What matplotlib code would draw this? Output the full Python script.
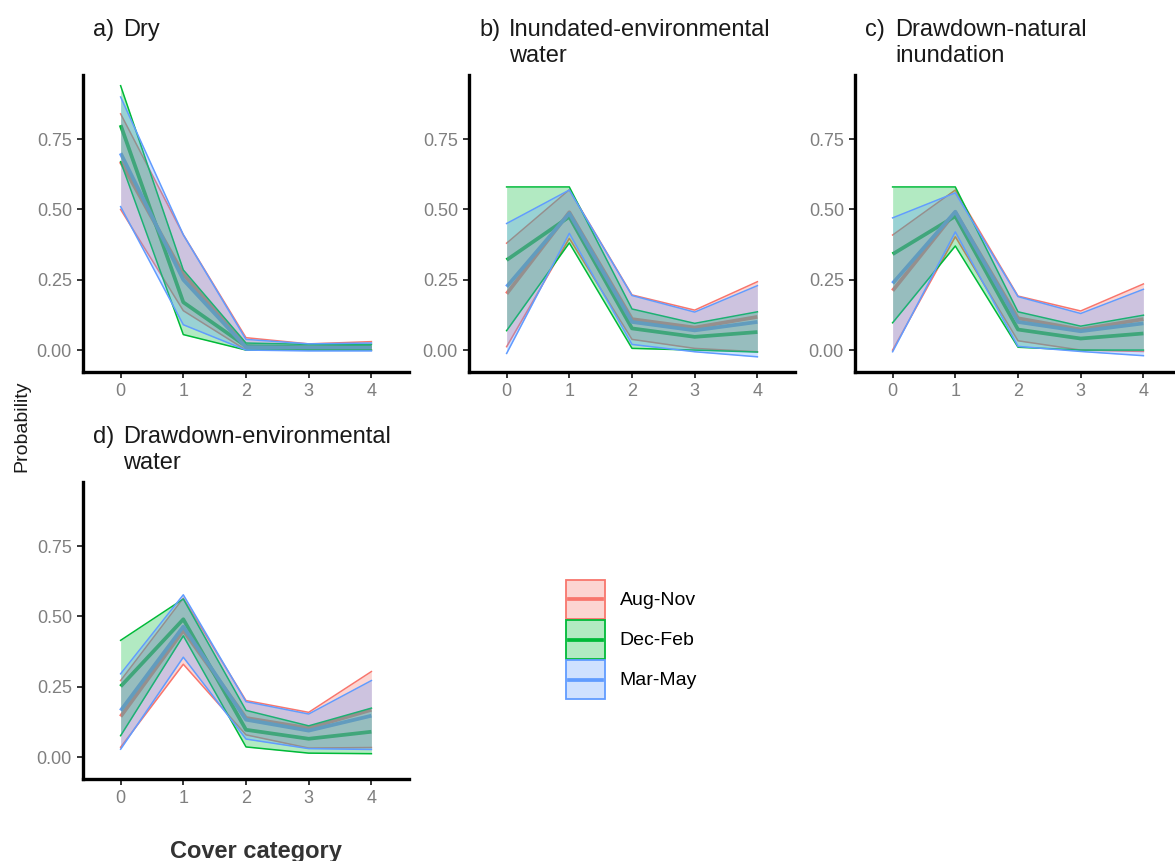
import matplotlib.pyplot as plt
from matplotlib.legend_handler import HandlerLine2D, HandlerTuple
from matplotlib.lines import Line2D
from matplotlib.patches import Patch

plt.rcParams["font.family"] = ["Liberation Sans", "DejaVu Sans"]

cover = [0, 1, 2, 3, 4]
cover_labels = ["0", "1", "2", "3", "4"]
prob_ticks = [0.0, 0.25, 0.5, 0.75]
prob_labels = ["0.00", "0.25", "0.50", "0.75"]

seasons = ["Aug-Nov", "Dec-Feb", "Mar-May"]
season_colors = ["#F8766D", "#00BA38", "#619CFF"]

# each table: one row per season (Aug-Nov, Dec-Feb, Mar-May), one value per cover category
dry_mean = [[0.67, 0.27, 0.012, 0.008, 0.010],
            [0.80, 0.17, 0.014, 0.010, 0.012],
            [0.70, 0.25, 0.010, 0.008, 0.008]]
dry_lower = [[0.50, 0.14, 0.0, 0.0, 0.0],
             [0.67, 0.055, 0.0, 0.0, 0.0],
             [0.51, 0.09, 0.0, -0.003, -0.003]]
dry_upper = [[0.84, 0.41, 0.044, 0.022, 0.030],
             [0.94, 0.285, 0.025, 0.020, 0.020],
             [0.90, 0.41, 0.038, 0.022, 0.025]]

inund_mean = [[0.20, 0.49, 0.110, 0.080, 0.118],
              [0.32, 0.474, 0.077, 0.047, 0.064],
              [0.225, 0.486, 0.100, 0.070, 0.100]]
inund_lower = [[0.012, 0.397, 0.038, 0.006, -0.006],
               [0.069, 0.381, 0.006, 0.0, -0.007],
               [-0.012, 0.415, 0.020, -0.006, -0.024]]
inund_upper = [[0.38, 0.57, 0.196, 0.142, 0.243],
               [0.58, 0.58, 0.146, 0.095, 0.136],
               [0.45, 0.569, 0.194, 0.135, 0.229]]

natural_mean = [[0.211, 0.49, 0.113, 0.073, 0.110],
                [0.341, 0.476, 0.073, 0.041, 0.059],
                [0.237, 0.492, 0.100, 0.067, 0.095]]
natural_lower = [[0.0, 0.403, 0.033, 0.0, -0.005],
                 [0.097, 0.37, 0.010, 0.0, 0.0],
                 [-0.006, 0.42, 0.013, -0.005, -0.020]]
natural_upper = [[0.409, 0.569, 0.192, 0.139, 0.235],
                 [0.58, 0.58, 0.136, 0.085, 0.124],
                 [0.47, 0.559, 0.190, 0.130, 0.216]]

envdraw_mean = [[0.144, 0.45, 0.139, 0.103, 0.168],
                [0.251, 0.49, 0.097, 0.065, 0.090],
                [0.165, 0.464, 0.133, 0.094, 0.147]]
envdraw_lower = [[0.035, 0.33, 0.079, 0.032, 0.034],
                 [0.076, 0.431, 0.036, 0.014, 0.012],
                 [0.028, 0.355, 0.064, 0.030, 0.027]]
envdraw_upper = [[0.272, 0.565, 0.201, 0.159, 0.304],
                 [0.415, 0.562, 0.166, 0.111, 0.174],
                 [0.296, 0.577, 0.197, 0.153, 0.272]]

W, H = 1175, 861
fig = plt.figure(figsize=(W / 100, H / 100), dpi=100)


class CenteredLine(HandlerLine2D):
    """Legend line sitting in the middle of the key box."""

    def create_artists(self, legend, orig_handle, xdescent, ydescent,
                       width, height, fontsize, trans):
        artists = super().create_artists(legend, orig_handle, xdescent, ydescent,
                                         width, height, fontsize, trans)
        line = artists[0]
        line.set_xdata([-xdescent + 0.08 * width, -xdescent + 0.92 * width])
        line.set_ydata([height / 2 - ydescent] * 2)
        return artists


def px_rect(left, top, right, bottom):
    return [left / W, 1 - bottom / H, (right - left) / W, (bottom - top) / H]


def draw_panel(rect, tag, name, mean, lower, upper):
    ax = fig.add_axes(rect)
    # mean lines go underneath the ribbons
    for vals, col in zip(mean, season_colors):
        ax.plot(cover, vals, color=col, lw=2.7, zorder=2, solid_capstyle="butt")
    for i, col in enumerate(season_colors):
        z = 3 + i
        ax.fill_between(cover, lower[i], upper[i], color=col, alpha=0.3, lw=0, zorder=z)
        ax.plot(cover, lower[i], color=col, lw=1.1, zorder=z)
        ax.plot(cover, upper[i], color=col, lw=1.1, zorder=z)

    ax.set_xlim(-0.6, 4.6)
    ax.set_ylim(-0.078, 0.978)
    ax.set_xticks(cover, cover_labels)
    ax.set_yticks(prob_ticks, prob_labels)
    ax.tick_params(length=4, width=1.1, color="black", labelsize=13,
                   labelcolor="#7f7f7f", pad=4)
    for side in ["top", "right"]:
        ax.spines[side].set_visible(False)
    for side in ["left", "bottom"]:
        ax.spines[side].set_linewidth(2.4)
        ax.spines[side].set_capstyle("projecting")
    ax.set_facecolor("none")

    ax.annotate(tag, xy=(0, 1), xycoords="axes fraction", xytext=(10, 56),
                textcoords="offset pixels", va="top", ha="left",
                fontsize=17, color="#1a1a1a")
    ax.annotate(name, xy=(0, 1), xycoords="axes fraction", xytext=(40, 56),
                textcoords="offset pixels", va="top", ha="left",
                fontsize=17, color="#1a1a1a", linespacing=1.24)
    return ax


draw_panel(px_rect(83, 75, 409, 372), "a)", "Dry", dry_mean, dry_lower, dry_upper)
draw_panel(px_rect(469, 75, 795, 372), "b)", "Inundated-environmental\nwater",
           inund_mean, inund_lower, inund_upper)
draw_panel(px_rect(855, 75, 1181, 372), "c)", "Drawdown-natural\ninundation",
           natural_mean, natural_lower, natural_upper)
draw_panel(px_rect(83, 482, 409, 779), "d)", "Drawdown-environmental\nwater",
           envdraw_mean, envdraw_lower, envdraw_upper)

fig.text(22 / W, 1 - 426 / H, "Probability", rotation=90, ha="center", va="center",
         fontsize=14, color="#1a1a1a")
fig.text(256 / W, 1 - 858 / H, "Cover category", ha="center", va="baseline",
         fontsize=17, fontweight="bold", color="#333333")

handles = [(Patch(facecolor=col, alpha=0.3, edgecolor="none"),
            Patch(facecolor="none", edgecolor=col, lw=1.3),
            Line2D([], [], color=col, lw=2.7))
           for col in season_colors]
fig.legend(handles, seasons,
           handler_map={tuple: HandlerTuple(ndivide=1, pad=0), Line2D: CenteredLine()},
           loc="upper left", bbox_to_anchor=(566 / W, 1 - 580 / H), frameon=False,
           fontsize=14, handlelength=2.0, handleheight=2.7, labelspacing=0.06,
           handletextpad=0.75, borderpad=0, borderaxespad=0)

fig.savefig("out.png", dpi=100)
